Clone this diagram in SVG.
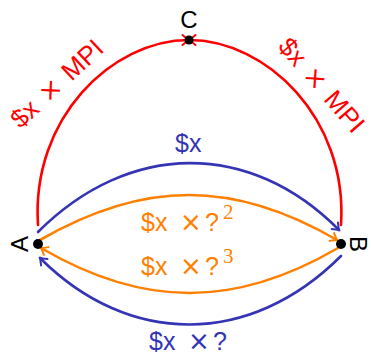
<svg xmlns="http://www.w3.org/2000/svg" width="371" height="358" viewBox="0 0 371 358">
<style>
.e{fill:none;stroke-width:2.6;stroke-linecap:round}
.red{stroke:#ff0000}
.blue{stroke:#3434b4}
.orange{stroke:#ff8000}
.t{font-family:"Liberation Sans",Arial,sans-serif;font-size:25px}
.tm{font-family:"DejaVu Sans",sans-serif;font-size:26px}
.tr{fill:#ff0000;font-size:26px;word-spacing:3px}
.tb{fill:#3434b4}
.to{fill:#ff8000}
.sup{font-family:"Liberation Serif","Times New Roman",serif;font-size:21px}
.node{fill:#000}
.nl{font-family:"Liberation Sans",Arial,sans-serif;font-size:24px;fill:#000}
</style>
<defs>
<marker id="ar" markerUnits="userSpaceOnUse" viewBox="-8 -6 10 12" refX="0" refY="0" markerWidth="10" markerHeight="12" orient="auto" overflow="visible">
<path d="M-6.5,-5 Q-2,-1.2 0,0 Q-2,1.2 -6.5,5" fill="none" stroke="#ff0000" stroke-width="2" stroke-linecap="round"/>
</marker>
<marker id="ab" markerUnits="userSpaceOnUse" viewBox="-8 -6 10 12" refX="0" refY="0" markerWidth="10" markerHeight="12" orient="auto" overflow="visible">
<path d="M-6,-4.5 Q-2,-1.2 0,0 Q-2,1.2 -6,4.5" fill="none" stroke="#3434b4" stroke-width="2" stroke-linecap="round"/>
</marker>
<marker id="ao" markerUnits="userSpaceOnUse" viewBox="-8 -6 10 12" refX="0" refY="0" markerWidth="10" markerHeight="12" orient="auto" overflow="visible">
<path d="M-6,-4.5 Q-2,-1.2 0,0 Q-2,1.2 -6,4.5" fill="none" stroke="#ff8000" stroke-width="2" stroke-linecap="round"/>
</marker>
</defs>
<g id="connectors">
<path id="e-AC" class="e red" d="M38,225 C31,118 112,40 189,40" marker-end="url(#ar)"/>
<path id="e-BC" class="e red" d="M341,225 C348,118 266,40 189,40" marker-end="url(#ar)"/>
<path id="e-AB-blue" class="e blue" d="M38,232 C129,141 250,140 339,230" marker-end="url(#ab)"/>
<path id="e-AB-orange" class="e orange" d="M40,240 C144,180 234,180 337,240" marker-end="url(#ao)"/>
<path id="e-BA-orange" class="e orange" d="M338,248 C235,308 144,308 41,248" marker-end="url(#ao)"/>
<path id="e-BA-blue" class="e blue" d="M341,256 C250,347 129,347 40,258" marker-end="url(#ab)"/>
</g>
<g id="edge-labels">
<text class="t tr" transform="translate(63,90) rotate(-43)" text-anchor="middle">$x <tspan class="tm" font-size="25px">×</tspan> MPI</text>
<text class="t tr" transform="translate(315,91) rotate(49)" text-anchor="middle">$x <tspan class="tm" font-size="25px">×</tspan> MPI</text>
<text class="t tb" x="175" y="152">$x</text>
<text class="t to" y="231"><tspan x="141">$x</tspan><tspan class="tm" x="180">×</tspan><tspan x="205">?</tspan><tspan class="sup" x="223" y="219">2</tspan></text>
<text class="t to" y="275"><tspan x="141">$x</tspan><tspan class="tm" x="180">×</tspan><tspan x="205">?</tspan><tspan class="sup" x="223" y="263">3</tspan></text>
<text class="t tb" y="350"><tspan x="149">$x</tspan><tspan class="tm" x="188">×</tspan><tspan x="213">?</tspan></text>
</g>
<g id="node-A">
<circle class="node" cx="38" cy="244" r="5"/>
<text class="nl" transform="translate(28,244) rotate(-90)" text-anchor="middle">A</text>
</g>
<g id="node-B">
<circle class="node" cx="341" cy="244" r="5"/>
<text class="nl" transform="translate(350,244) rotate(90)" text-anchor="middle">B</text>
</g>
<g id="node-C">
<circle class="node" cx="189" cy="40" r="4.5"/>
<text class="nl" x="189" y="28" text-anchor="middle">C</text>
</g>
</svg>
